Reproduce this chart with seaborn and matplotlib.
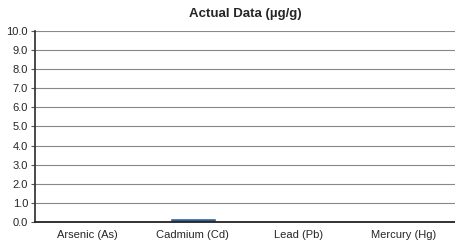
import matplotlib
matplotlib.use('Agg')
import matplotlib.pyplot as plt
import seaborn as sns

elements = ['Arsenic (As)', 'Cadmium (Cd)', 'Lead (Pb)', 'Mercury (Hg)']
values = [0.0, 0.22, 0.0, 0.0]

sns.set_theme(style='white')
plt.rcParams['font.family'] = ['Liberation Sans', 'DejaVu Sans']

fig = plt.figure(figsize=(4.56, 2.42), dpi=100)
ax = fig.add_axes([35 / 456, 20 / 242, 421 / 456, 191 / 242])
sns.barplot(x=elements, y=values, color='#30609a', width=0.44, saturation=1, ax=ax)
ax.set_ylim(0, 10)
ax.set_yticks(range(0, 11))
ax.set_yticklabels([f'{v:.1f}' for v in range(0, 11)], fontsize=8)
ax.tick_params(axis='x', labelsize=8, length=0, pad=6)
ax.tick_params(axis='y', length=3, width=0.8, pad=2, color='#555555', left=True)
ax.grid(axis='y', color='#888888', linewidth=0.8)
ax.set_axisbelow(True)
for s in ['top', 'right']:
    ax.spines[s].set_visible(False)
ax.spines['left'].set_color('#333333')
ax.spines['bottom'].set_color('#222222')
ax.spines['bottom'].set_linewidth(1.3)
ax.set_title('Actual Data (µg/g)', fontsize=9.5, fontweight='bold', pad=10)
fig.savefig('out.png', dpi=100)
